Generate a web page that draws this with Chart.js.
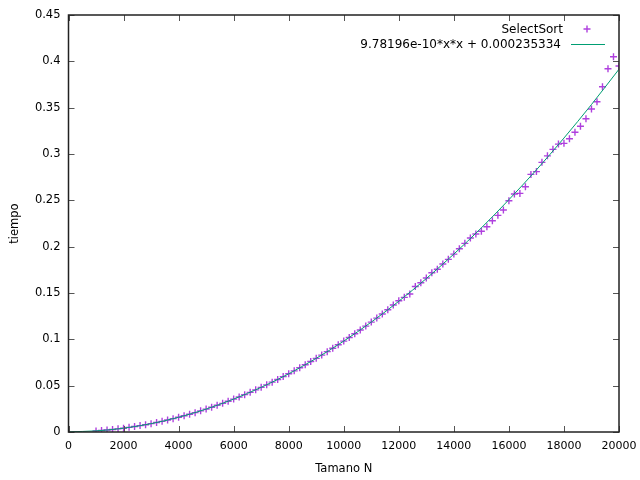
<!DOCTYPE html>
<html>
<head>
<meta charset="utf-8">
<title>SelectSort</title>
<script src="https://cdn.jsdelivr.net/npm/chart.js@4.4.1/dist/chart.umd.min.js"></script>
<style>
    html, body { margin: 0; padding: 0; background: #fff; }
    #wrap { width: 640px; height: 480px; }
</style>
</head>
<body>
<div id="wrap"><canvas id="sort-chart" width="640" height="480"></canvas></div>
<script>
// --- Data ---
const sizes = [
    1000, 1200, 1400, 1600, 1800, 2000, 2200, 2400, 2600, 2800,
    3000, 3200, 3400, 3600, 3800, 4000, 4200, 4400, 4600, 4800,
    5000, 5200, 5400, 5600, 5800, 6000, 6200, 6400, 6600, 6800,
    7000, 7200, 7400, 7600, 7800, 8000, 8200, 8400, 8600, 8800,
    9000, 9200, 9400, 9600, 9800, 10000, 10200, 10400, 10600, 10800,
    11000, 11200, 11400, 11600, 11800, 12000, 12200, 12400, 12600, 12800,
    13000, 13200, 13400, 13600, 13800, 14000, 14200, 14400, 14600, 14800,
    15000, 15200, 15400, 15600, 15800, 16000, 16200, 16400, 16600, 16800,
    17000, 17200, 17400, 17600, 17800, 18000, 18200, 18400, 18600, 18800,
    19000, 19200, 19400, 19600, 19800, 20000
];
const times = [
    0.0012, 0.0016, 0.0022, 0.0027, 0.0034, 0.0041, 0.0050, 0.0059, 0.0069, 0.0079,
    0.0090, 0.0103, 0.0115, 0.0129, 0.0144, 0.0159, 0.0175, 0.0192, 0.0209, 0.0228,
    0.0247, 0.0267, 0.0288, 0.0309, 0.0332, 0.0355, 0.0378, 0.0403, 0.0428, 0.0455,
    0.0482, 0.0509, 0.0538, 0.0567, 0.0598, 0.0628, 0.0660, 0.0693, 0.0726, 0.0760,
    0.0795, 0.0830, 0.0867, 0.0904, 0.0942, 0.0981, 0.1020, 0.1060, 0.1101, 0.1143,
    0.1186, 0.1229, 0.1274, 0.1319, 0.1370, 0.1417, 0.1453, 0.1490, 0.1570, 0.1611,
    0.1662, 0.1719, 0.1756, 0.1813, 0.1863, 0.1920, 0.1978, 0.2036, 0.2093, 0.2136,
    0.2166, 0.2215, 0.2280, 0.2338, 0.2395, 0.2496, 0.2568, 0.2575, 0.2647, 0.2780,
    0.2810, 0.2910, 0.2980, 0.3050, 0.3107, 0.3115, 0.3165, 0.3234, 0.3300, 0.3380,
    0.3485, 0.3564, 0.3726, 0.3920, 0.4050, 0.3950
];

// fitted curve, read at every 1000
const fitSizes = [
    0, 1000, 2000, 3000, 4000, 5000, 6000, 7000, 8000, 9000, 10000,
    11000, 12000, 13000, 14000, 15000, 16000, 17000, 18000, 19000, 20000
];
const fitTimes = [
    0.0002, 0.0012, 0.0041, 0.0090, 0.0159, 0.0247, 0.0355, 0.0482, 0.0628, 0.0795, 0.0981,
    0.1186, 0.1411, 0.1656, 0.1920, 0.2203, 0.2507, 0.2829, 0.3172, 0.3534, 0.3915
];

const xTicks = [0, 2000, 4000, 6000, 8000, 10000, 12000, 14000, 16000, 18000, 20000];
const yTicks = [0, 0.05, 0.1, 0.15, 0.2, 0.25, 0.3, 0.35, 0.4, 0.45];
const yTickLabels = ['0', '0.05', '0.1', '0.15', '0.2', '0.25', '0.3', '0.35', '0.4', '0.45'];

const pointsLabel = 'SelectSort';
const fitLabel = '9.78196e-10*x*x + 0.000235334';

const POINT_COLOR = 'rgba(148, 0, 211, 0.75)';
const FIT_COLOR = '#009e73';
const FONT = 'DejaVu Sans';

// --- gnuplot-like frame, inward ticks and key ---
const gnuplotFrame = {
    id: 'gnuplotFrame',
    afterDraw(chart) {
        const { ctx, chartArea: a, scales: { x, y } } = chart;
        ctx.save();

        // ticks on all four sides, pointing in
        ctx.strokeStyle = '#555';
        ctx.lineWidth = 1;
        ctx.beginPath();
        xTicks.forEach(v => {
            const px = Math.round(x.getPixelForValue(v)) + 0.5;
            ctx.moveTo(px, a.bottom); ctx.lineTo(px, a.bottom - 6);
            ctx.moveTo(px, a.top); ctx.lineTo(px, a.top + 6);
        });
        yTicks.forEach(v => {
            const py = Math.round(y.getPixelForValue(v)) + 0.5;
            ctx.moveTo(a.left, py); ctx.lineTo(a.left + 6, py);
            ctx.moveTo(a.right, py); ctx.lineTo(a.right - 6, py);
        });
        ctx.stroke();

        // border
        ctx.strokeStyle = '#222';
        ctx.lineWidth = 1.5;
        ctx.strokeRect(a.left, a.top, a.right - a.left, a.bottom - a.top);

        // key, top right
        ctx.font = `12px "${FONT}"`;
        ctx.fillStyle = '#000';
        ctx.textAlign = 'right';
        ctx.textBaseline = 'middle';
        ctx.fillText(pointsLabel, 563, 29.5);
        ctx.fillText(fitLabel, 561, 44.5);

        ctx.strokeStyle = POINT_COLOR;
        ctx.lineWidth = 1.4;
        ctx.beginPath();
        ctx.moveTo(583.5, 29); ctx.lineTo(590.5, 29);
        ctx.moveTo(587, 25.5); ctx.lineTo(587, 32.5);
        ctx.stroke();

        ctx.strokeStyle = FIT_COLOR;
        ctx.lineWidth = 1;
        ctx.beginPath();
        ctx.moveTo(571, 44.5); ctx.lineTo(605, 44.5);
        ctx.stroke();

        ctx.restore();
    }
};

document.addEventListener('DOMContentLoaded', () => {
    const ctx = document.getElementById('sort-chart');

    new Chart(ctx, {
        type: 'scatter',
        data: {
            datasets: [
                {
                    label: fitLabel,
                    data: fitSizes.map((n, i) => ({ x: n, y: fitTimes[i] })),
                    showLine: true,
                    borderColor: FIT_COLOR,
                    borderWidth: 1,
                    pointRadius: 0,
                    cubicInterpolationMode: 'monotone',
                    order: 0
                },
                {
                    label: pointsLabel,
                    data: sizes.map((n, i) => ({ x: n, y: times[i] })),
                    pointStyle: 'cross',
                    pointRadius: 3.5,
                    borderColor: POINT_COLOR,
                    backgroundColor: POINT_COLOR,
                    borderWidth: 1.4,
                    order: 1
                }
            ]
        },
        options: {
            responsive: false,
            animation: false,
            devicePixelRatio: 1,
            layout: { padding: { top: 15, right: 21, left: 0, bottom: 0 } },
            plugins: {
                legend: { display: false },
                tooltip: { enabled: false }
            },
            scales: {
                x: {
                    type: 'linear',
                    min: 0,
                    max: 20000,
                    afterBuildTicks: s => { s.ticks = xTicks.map(v => ({ value: v })); },
                    afterFit: s => { s.height = 48; s.paddingLeft = 0; s.paddingRight = 0; },
                    grid: { display: false, drawTicks: false },
                    border: { display: false },
                    ticks: {
                        color: '#000',
                        padding: 8,
                        maxRotation: 0,
                        font: { family: FONT, size: 11 },
                        callback: v => String(v)
                    },
                    title: {
                        display: true,
                        text: 'Tamano N',
                        color: '#000',
                        padding: { top: 0, bottom: 4 },
                        font: { family: FONT, size: 11.5 }
                    }
                },
                y: {
                    type: 'linear',
                    min: 0,
                    max: 0.45,
                    afterBuildTicks: s => { s.ticks = yTicks.map(v => ({ value: v })); },
                    afterFit: s => { s.width = 68.5; s.paddingTop = 0; s.paddingBottom = 0; },
                    grid: { display: false, drawTicks: false },
                    border: { display: false },
                    ticks: {
                        color: '#000',
                        padding: 8,
                        font: { family: FONT, size: 11.5 },
                        callback: (v, i) => yTickLabels[i]
                    },
                    title: {
                        display: true,
                        text: 'tiempo',
                        color: '#000',
                        padding: { top: 8.5, bottom: 0 },
                        font: { family: FONT, size: 11.5 }
                    }
                }
            }
        },
        plugins: [gnuplotFrame]
    });
});
</script>
</body>
</html>
